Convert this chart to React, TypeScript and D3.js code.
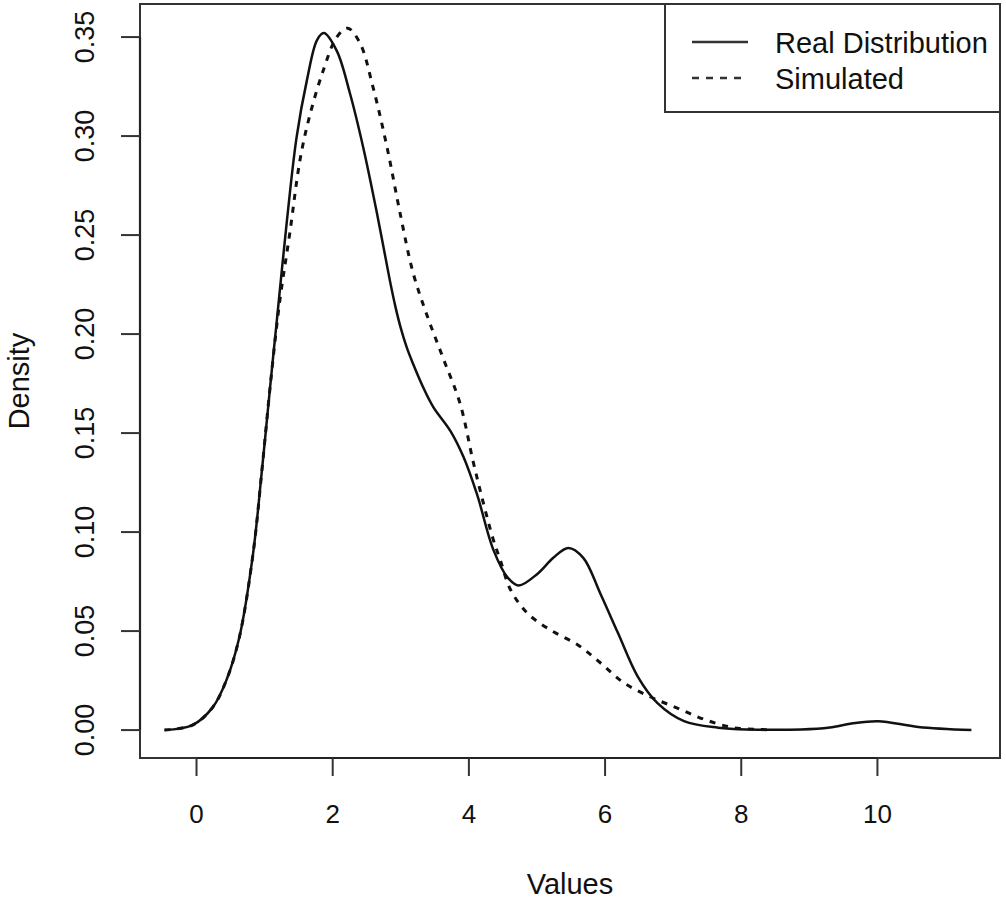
import React, { useEffect, useRef } from "react";
import * as d3 from "d3";

// density estimates
const realX = [-0.47, -0.06, 0.24, 0.44, 0.63, 0.83, 0.96, 1.08, 1.18, 1.33, 1.47, 1.62, 1.77, 1.87, 2.06, 2.25, 2.45, 2.65, 2.84, 2.92, 3.0, 3.09, 3.18, 3.33, 3.48, 3.73, 3.92, 4.12, 4.36, 4.57, 4.73, 5.01, 5.24, 5.46, 5.68, 5.93, 6.19, 6.48, 6.77, 7.16, 7.66, 8.14, 8.88, 9.3, 9.62, 10.01, 10.6, 11.38];
const realY = [0, 0.0025, 0.0116, 0.0253, 0.047, 0.089, 0.131, 0.173, 0.207, 0.258, 0.2995, 0.328, 0.3485, 0.352, 0.343, 0.322, 0.294, 0.261, 0.227, 0.214, 0.203, 0.193, 0.185, 0.173, 0.163, 0.151, 0.138, 0.119, 0.091, 0.077, 0.073, 0.079, 0.087, 0.092, 0.087, 0.069, 0.049, 0.027, 0.0136, 0.0045, 0.0012, 0.0003, 0.0003, 0.0013, 0.0033, 0.0045, 0.0016, 0];

const simX = [-0.47, -0.06, 0.24, 0.44, 0.63, 0.83, 0.96, 1.08, 1.22, 1.37, 1.52, 1.66, 1.86, 2.06, 2.22, 2.4, 2.59, 2.8, 2.99, 3.18, 3.39, 3.62, 3.87, 4.06, 4.21, 4.36, 4.46, 4.61, 4.86, 5.2, 5.6, 5.93, 6.27, 6.67, 7.07, 7.45, 7.89, 8.39];
const simY = [0, 0.0025, 0.0116, 0.0253, 0.047, 0.089, 0.131, 0.173, 0.216, 0.251, 0.288, 0.31, 0.333, 0.35, 0.3545, 0.347, 0.325, 0.294, 0.261, 0.231, 0.209, 0.188, 0.165, 0.136, 0.115, 0.096, 0.086, 0.071, 0.059, 0.0505, 0.043, 0.034, 0.024, 0.0167, 0.011, 0.0055, 0.0012, 0.0002];

const xTicks = [0, 2, 4, 6, 8, 10];
const yTicks = [0, 0.05, 0.1, 0.15, 0.2, 0.25, 0.3, 0.35];
const seriesNames = ["Real Distribution", "Simulated"];

const App = () => {
  const ref = useRef<SVGSVGElement>(null);

  useEffect(() => {
    const svg = d3.select(ref.current);
    svg.selectAll("*").remove();

    const left = 140, right = 1000, top = 4, bottom = 758;
    const x = d3.scaleLinear().domain([-0.83, 11.8]).range([left, right]);
    const y = d3.scaleLinear().domain([-0.0141, 0.3667]).range([bottom, top]);
    const font = "'Liberation Sans', Arial, Helvetica, sans-serif";
    const ink = "#111";
    const smooth = d3.line().curve(d3.curveCatmullRom.alpha(0.5));

    // plot box
    svg.append("rect")
      .attr("x", left).attr("y", top)
      .attr("width", right - left).attr("height", bottom - top)
      .attr("fill", "none").attr("stroke", "#333").attr("stroke-width", 2);

    // x axis
    const gx = svg.append("g").attr("transform", `translate(0,${bottom})`);
    gx.append("line")
      .attr("x1", x(0)).attr("x2", x(10))
      .attr("stroke", "#222").attr("stroke-width", 2.2);
    gx.selectAll(".t").data(xTicks).join("line")
      .attr("x1", d => x(d)).attr("x2", d => x(d))
      .attr("y1", 0).attr("y2", 18)
      .attr("stroke", "#333").attr("stroke-width", 2);
    gx.selectAll("text").data(xTicks).join("text")
      .attr("x", d => x(d)).attr("y", 65)
      .attr("text-anchor", "middle")
      .attr("font-family", font).attr("font-size", 26).attr("fill", ink)
      .text(d => d);

    // y axis
    const gy = svg.append("g").attr("transform", `translate(${left},0)`);
    gy.append("line")
      .attr("y1", y(0)).attr("y2", y(0.35))
      .attr("stroke", "#222").attr("stroke-width", 2.2);
    gy.selectAll(".t").data(yTicks).join("line")
      .attr("y1", d => y(d)).attr("y2", d => y(d))
      .attr("x1", -19).attr("x2", 0)
      .attr("stroke", "#333").attr("stroke-width", 2);
    gy.selectAll("text").data(yTicks).join("text")
      .attr("transform", d => `translate(-46,${y(d)}) rotate(-90)`)
      .attr("text-anchor", "middle")
      .attr("font-family", font).attr("font-size", 27).attr("fill", ink)
      .text(d => d3.format(".2f")(d));

    // axis titles
    svg.append("text")
      .attr("x", (left + right) / 2).attr("y", 894)
      .attr("text-anchor", "middle")
      .attr("font-family", font).attr("font-size", 29).attr("fill", ink)
      .text("Values");
    svg.append("text")
      .attr("transform", `translate(29,${(top + bottom) / 2}) rotate(-90)`)
      .attr("text-anchor", "middle")
      .attr("font-family", font).attr("font-size", 29).attr("fill", ink)
      .text("Density");

    // curves
    svg.append("path")
      .datum(realX.map((v, i) => [x(v), y(realY[i])] as [number, number]))
      .attr("d", smooth)
      .attr("fill", "none").attr("stroke", ink).attr("stroke-width", 2.5);
    svg.append("path")
      .datum(simX.map((v, i) => [x(v), y(simY[i])] as [number, number]))
      .attr("d", smooth)
      .attr("fill", "none").attr("stroke", ink).attr("stroke-width", 3)
      .attr("stroke-dasharray", "6,7");

    // legend
    const lg = svg.append("g");
    lg.append("rect")
      .attr("x", 665).attr("y", top)
      .attr("width", right - 665).attr("height", 108)
      .attr("fill", "white").attr("stroke", "#333").attr("stroke-width", 2);
    lg.selectAll("g").data(seriesNames).join("g")
      .attr("transform", (d, i) => `translate(692,${42 + i * 36})`)
      .call(g => {
        g.append("line")
          .attr("x1", 0).attr("x2", 56)
          .attr("stroke", "#333").attr("stroke-width", 2.5)
          .attr("stroke-dasharray", (d, i) => (i === 1 ? "7,7" : null));
        g.append("text")
          .attr("x", 83).attr("y", 11)
          .attr("font-family", font).attr("font-size", 29).attr("fill", ink)
          .text(d => d);
      });
  }, []);

  return (
    <svg ref={ref} width={1006} height={899}
      style={{ position: "absolute", left: 0, top: 0, background: "white" }} />
  );
};

export default App;
